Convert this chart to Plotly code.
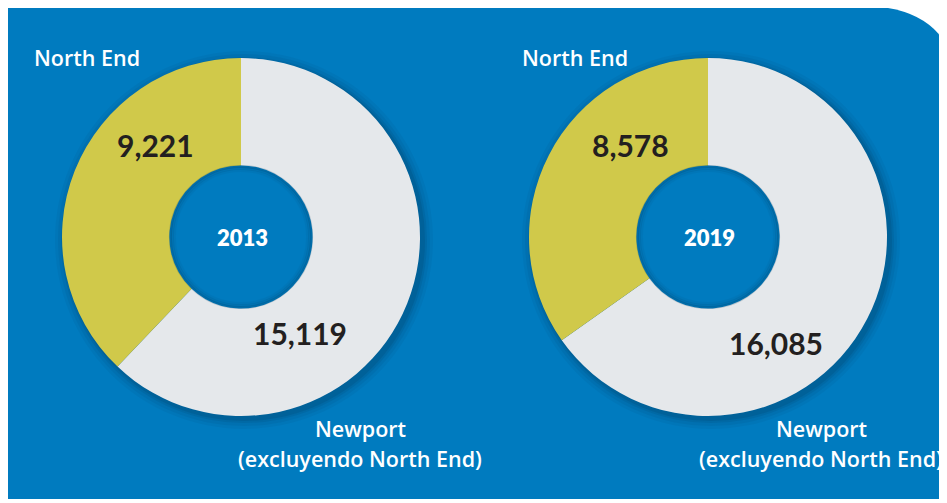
import plotly.graph_objects as go

# ---- data ----
years = ["2013", "2019"]
categories = ["North End", "Newport (excluyendo North End)"]
north_end = [9221, 8578]
newport_excl = [15119, 16085]

# page is 947x503; the html body has an 8px margin, so the figure is shrunk
OFF = 8
W, H = 947 - OFF, 503 - OFF
BLUE = "#007BBF"
YELLOW = "#D0C94A"
GRAY = "#E5E8EB"
DARK = "#231F20"
NUM_FONT = "Lato"
LBL_FONT = "Open Sans"

def px(x):
    return (x - OFF) / W

def py(y):
    return 1 - (y - OFF) / H

centers = [(241, 237), (708, 237)]
R_OUT = 179
HOLE = 0.40

fig = go.Figure()

for i, yr in enumerate(years):
    cx, cy = centers[i]
    fig.add_trace(go.Pie(
        values=[newport_excl[i], north_end[i]],
        labels=[categories[1], categories[0]],
        sort=False,
        direction="clockwise",
        rotation=0,
        hole=HOLE,
        textinfo="none",
        hoverinfo="label+value",
        marker=dict(colors=[GRAY, YELLOW], line=dict(width=0)),
        domain=dict(x=[px(cx - R_OUT), px(cx + R_OUT)],
                    y=[py(cy + R_OUT), py(cy - R_OUT)]),
        showlegend=False,
    ))

shapes = []
# blue background with rounded top-right corner
x0, y0, y1 = 5, 6, 499
rc = 98
cxr = 862
path = (f"M {px(x0)},{py(y0)} L {px(cxr)},{py(y0)} "
        f"Q {px(cxr + rc)},{py(y0)} {px(cxr + rc)},{py(y0 + rc)} "
        f"L {px(cxr + rc)},{py(y1)} L {px(x0)},{py(y1)} Z")
shapes.append(dict(type="path", path=path, xref="paper", yref="paper",
                   fillcolor=BLUE, line=dict(width=0), layer="below"))

# soft outer shadows
for (cx, cy) in centers:
    for d, op in [(10, 0.06), (7, 0.08), (4, 0.12), (2, 0.15)]:
        r = R_OUT + d
        ox, oy = 3, 3
        shapes.append(dict(type="circle", xref="paper", yref="paper",
                           x0=px(cx + ox - r), x1=px(cx + ox + r),
                           y0=py(cy + oy + r), y1=py(cy + oy - r),
                           fillcolor="#00365A", opacity=op,
                           line=dict(width=0), layer="below"))

r_in = R_OUT * HOLE
# restore blue inside the hole
for (cx, cy) in centers:
    r = r_in + 1
    shapes.append(dict(type="circle", xref="paper", yref="paper",
                       x0=px(cx - r), x1=px(cx + r),
                       y0=py(cy + r), y1=py(cy - r),
                       fillcolor=BLUE, line=dict(width=0), layer="below"))

# inner shadow rim of the hole
for (cx, cy) in centers:
    for d, op in [(0, 0.18), (2, 0.10), (4, 0.05)]:
        r = r_in - d - 1
        shapes.append(dict(type="circle", xref="paper", yref="paper",
                           x0=px(cx - r), x1=px(cx + r),
                           y0=py(cy + r), y1=py(cy - r),
                           fillcolor="rgba(0,0,0,0)", opacity=op,
                           line=dict(width=3, color="#00304F"), layer="above"))

fig.update_layout(shapes=shapes)

ann = []
def add_text(text, x, y, size, color, family, weight):
    ann.append(dict(text=text, x=px(x), y=py(y),
                    xref="paper", yref="paper", showarrow=False,
                    xanchor="center", yanchor="middle",
                    font=dict(family=family, size=size, color=color, weight=weight)))

label_pos = [
    dict(ne=(87, 58), nev=(155, 145), yr=(242, 237), np=(300, 333), lbl=(360, 428)),
    dict(ne=(575, 58), nev=(630, 145), yr=(709, 237), np=(776, 343), lbl=(821, 428)),
]
for i, yr in enumerate(years):
    p = label_pos[i]
    add_text(categories[0], *p["ne"], 21.5, "white", LBL_FONT, 600)
    add_text(f"{north_end[i]:,}", *p["nev"], 30, DARK, NUM_FONT, 700)
    add_text(yr, *p["yr"], 22, "white", NUM_FONT, 800)
    add_text(f"{newport_excl[i]:,}", *p["np"], 30, DARK, NUM_FONT, 700)
    add_text("Newport", p["lbl"][0], p["lbl"][1], 21.5, "white", LBL_FONT, 600)
    add_text("(excluyendo North End)", p["lbl"][0], p["lbl"][1] + 30, 21.5, "white", LBL_FONT, 600)

fig.update_layout(
    annotations=ann,
    width=W, height=H,
    margin=dict(l=0, r=0, t=0, b=0),
    paper_bgcolor="white",
    plot_bgcolor="white",
    showlegend=False,
)

fig.write_html("out.html")
